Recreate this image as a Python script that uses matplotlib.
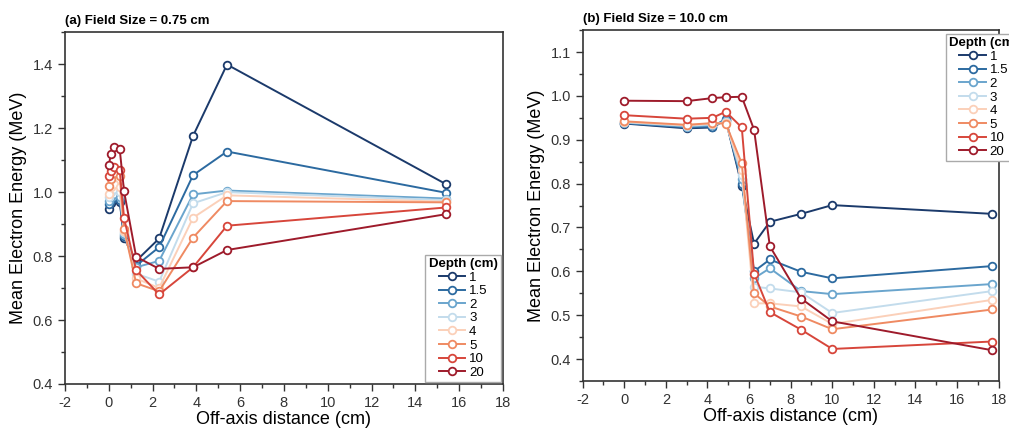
import matplotlib.pyplot as plt
from matplotlib.ticker import MultipleLocator

plt.rcParams['font.family'] = ['Liberation Sans', 'DejaVu Sans']
plt.rcParams['axes.unicode_minus'] = False

# 深度（cm）
depths = ['1', '1.5', '2', '3', '4', '5', '10', '20']
colors = ['#1b3a6b', '#2c6aa0', '#6aa5cd', '#c3dcec',
          '#fbd0b9', '#ef8a62', '#d7463b', '#9e1b2b']

# (a) Field Size = 0.75 cm
x_a = [0, 0.1, 0.25, 0.5, 0.7, 1.25, 2.3, 3.85, 5.4, 15.4]
e_a_1 = [0.946, 0.965, 0.978, 0.970, 0.855, 0.785, 0.855, 1.176, 1.399, 1.025]
e_a_15 = [0.962, 0.975, 0.985, 0.975, 0.862, 0.770, 0.828, 1.053, 1.127, 0.998]
e_a_2 = [0.972, 0.985, 0.995, 0.985, 0.870, 0.765, 0.785, 0.993, 1.005, 0.980]
e_a_3 = [0.985, 1.000, 1.010, 1.000, 0.875, 0.745, 0.720, 0.965, 1.000, 0.975]
e_a_4 = [0.995, 1.015, 1.025, 1.015, 0.880, 0.730, 0.700, 0.920, 0.990, 0.970]
e_a_5 = [1.020, 1.040, 1.060, 1.050, 0.885, 0.715, 0.690, 0.858, 0.972, 0.968]
e_a_10 = [1.050, 1.065, 1.080, 1.068, 0.918, 0.756, 0.680, 0.765, 0.895, 0.952]
e_a_20 = [1.084, 1.119, 1.142, 1.134, 1.002, 0.798, 0.760, 0.765, 0.819, 0.931]

# (b) Field Size = 10.0 cm
x_b = [0, 3, 4.24, 4.88, 5.65, 6.24, 7, 8.5, 10, 17.7]
e_b_1 = [0.937, 0.926, 0.928, 0.945, 0.795, 0.663, 0.713, 0.731, 0.751, 0.731]
e_b_15 = [0.938, 0.928, 0.930, 0.947, 0.800, 0.600, 0.627, 0.599, 0.584, 0.612]
e_b_2 = [0.939, 0.930, 0.933, 0.943, 0.810, 0.584, 0.607, 0.555, 0.548, 0.571]
e_b_3 = [0.940, 0.932, 0.935, 0.940, 0.820, 0.565, 0.561, 0.552, 0.505, 0.555]
e_b_4 = [0.941, 0.933, 0.937, 0.938, 0.830, 0.527, 0.527, 0.520, 0.480, 0.535]
e_b_5 = [0.942, 0.934, 0.938, 0.937, 0.846, 0.550, 0.520, 0.497, 0.468, 0.513]
e_b_10 = [0.956, 0.948, 0.950, 0.964, 0.928, 0.595, 0.507, 0.467, 0.423, 0.440]
e_b_20 = [0.989, 0.988, 0.995, 0.997, 0.998, 0.923, 0.657, 0.538, 0.486, 0.420]

series_a = [e_a_1, e_a_15, e_a_2, e_a_3, e_a_4, e_a_5, e_a_10, e_a_20]
series_b = [e_b_1, e_b_15, e_b_2, e_b_3, e_b_4, e_b_5, e_b_10, e_b_20]

fig = plt.figure(figsize=(10.09, 4.3), dpi=100)
ax1 = fig.add_axes([0.0644, 0.107, 0.434, 0.818])
ax2 = fig.add_axes([0.5775, 0.114, 0.4122, 0.816])

leg_kw = dict(title='Depth (cm)', fontsize=9.5,
              title_fontproperties={'weight': 'bold', 'size': 9.5},
              fancybox=False, edgecolor='#aaaaaa', framealpha=1,
              labelspacing=0.1, handlelength=2.0, handletextpad=0.3,
              borderpad=0.25)


def draw(ax, x, series):
    for ys, c, d in zip(series, colors, depths):
        ax.plot(x, ys, '-o', color=c, lw=1.4, ms=5.5, mfc='white',
                mec=c, mew=1.3, label=d)
    ax.set_xlim(-2, 18)
    ax.xaxis.set_major_locator(MultipleLocator(2))
    ax.xaxis.set_minor_locator(MultipleLocator(1))
    ax.tick_params(which='both', direction='out', top=False, right=False,
                   labelsize=10.5, width=1, colors='#333333')
    ax.tick_params(which='major', length=5)
    ax.tick_params(which='minor', length=3)
    for s in ax.spines.values():
        s.set_linewidth(1.2)
        s.set_color('#333333')
    ax.set_xlabel('Off-axis distance (cm)', fontsize=13, labelpad=1)
    ax.set_ylabel('Mean Electron Energy (MeV)', fontsize=13, labelpad=4)


draw(ax1, x_a, series_a)
ax1.set_ylim(0.4, 1.5)
ax1.yaxis.set_major_locator(MultipleLocator(0.2))
ax1.yaxis.set_minor_locator(MultipleLocator(0.1))
ax1.set_title('(a) Field Size = 0.75 cm', fontsize=9.5, fontweight='bold',
              loc='left', pad=6)
leg1 = ax1.legend(loc='lower right', borderaxespad=0.15, **leg_kw)
leg1.get_frame().set_linewidth(1)

draw(ax2, x_b, series_b)
ax2.set_ylim(0.35, 1.15)
ax2.yaxis.set_major_locator(MultipleLocator(0.1))
ax2.yaxis.set_minor_locator(MultipleLocator(0.05))
ax2.set_title('(b) Field Size = 10.0 cm', fontsize=9.5, fontweight='bold',
              loc='left', pad=6)
leg2 = ax2.legend(loc='upper left', bbox_to_anchor=(946 / 1009, 1 - 34 / 430),
                  bbox_transform=fig.transFigure, borderaxespad=0, **leg_kw)
leg2.get_frame().set_linewidth(1)

fig.savefig('out.png', dpi=100)
